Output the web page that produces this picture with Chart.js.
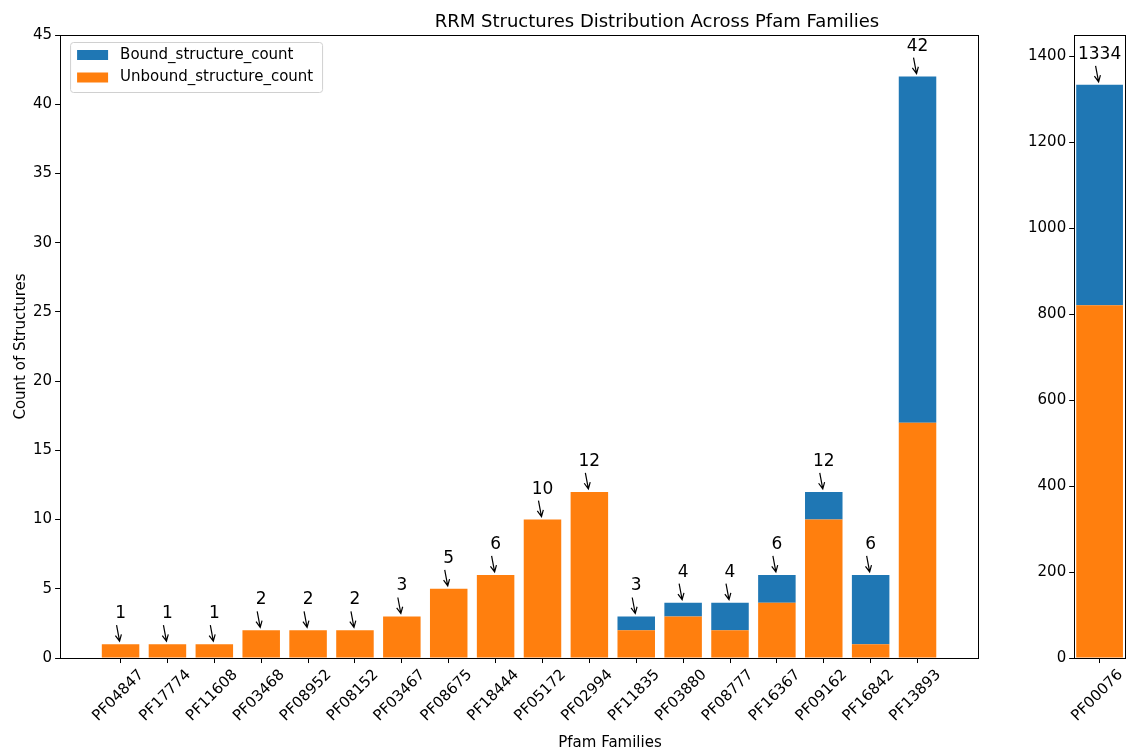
<!DOCTYPE html>
<html>
<head>
<meta charset="utf-8">
<script src="https://cdn.jsdelivr.net/npm/chart.js@4.4.1/dist/chart.umd.min.js"></script>
<style>
    body { margin: 0; background: #fff; font-family: 'DejaVu Sans', sans-serif; }
    #wrap { position: relative; width: 1128px; height: 753px; overflow: hidden; }
    canvas { position: absolute; top: 0; }
    #title { position: absolute; top: 10px; left: 357px; width: 600px; text-align: center; font-size: 18px; color: #000; }
    #xlabel { position: absolute; top: 733px; left: 460px; width: 300px; text-align: center; font-size: 15px; color: #000; }
</style>
</head>
<body>
<div id="wrap">
    <canvas id="mainChart" width="1000" height="753" style="left:0"></canvas>
    <canvas id="sideChart" width="128" height="753" style="left:1000px"></canvas>
    <div id="title">RRM Structures Distribution Across Pfam Families</div>
    <div id="xlabel">Pfam Families</div>
</div>
<script>
const families = ['PF04847', 'PF17774', 'PF11608', 'PF03468', 'PF08952', 'PF08152', 'PF03467', 'PF08675', 'PF18444',
    'PF05172', 'PF02994', 'PF11835', 'PF03880', 'PF08777', 'PF16367', 'PF09162', 'PF16842', 'PF13893'];
const unboundCounts = [1, 1, 1, 2, 2, 2, 3, 5, 6, 10, 12, 2, 3, 2, 4, 10, 1, 17];
const boundCounts = [0, 0, 0, 0, 0, 0, 0, 0, 0, 0, 0, 1, 1, 2, 2, 2, 5, 25];

const bigFamily = ['PF00076'];
const bigUnbound = [821];
const bigBound = [513];

const mainYTicks = [0, 5, 10, 15, 20, 25, 30, 35, 40, 45];
const sideYTicks = [0, 200, 400, 600, 800, 1000, 1200, 1400];

const BLUE = '#1f77b4';
const ORANGE = '#ff7f0e';
const FONT = "'DejaVu Sans', sans-serif";

// box round the plot area, like matplotlib spines
const framePlugin = {
    id: 'frame',
    afterDraw(chart) {
        const { ctx, chartArea: a } = chart;
        ctx.save();
        ctx.strokeStyle = '#000';
        ctx.lineWidth = 1;
        ctx.strokeRect(Math.round(a.left) + 0.5, Math.round(a.top) + 0.5, Math.round(a.right - a.left), Math.round(a.bottom - a.top));
        ctx.restore();
    }
};

// total labels with small arrows above each bar
const makeTotalsPlugin = (unbound, bound) => ({
    id: 'totals',
    afterDatasetsDraw(chart) {
        const { ctx, scales } = chart;
        ctx.save();
        ctx.fillStyle = '#000';
        ctx.strokeStyle = '#000';
        ctx.lineWidth = 1.2;
        ctx.font = `17px ${FONT}`;
        ctx.textAlign = 'center';
        ctx.textBaseline = 'alphabetic';

        unbound.forEach((u, i) => {
            const total = u + bound[i];
            const x = scales.x.getPixelForValue(i);
            const top = scales.y.getPixelForValue(total);

            ctx.fillText(String(total), x, top - 26);

            const x0 = x - 4, y0 = top - 19;
            const x1 = x - 1, y1 = top - 3;
            ctx.beginPath();
            ctx.moveTo(x0, y0);
            ctx.lineTo(x1, y1);
            const ang = Math.atan2(y1 - y0, x1 - x0);
            const len = 7;
            ctx.moveTo(x1 - len * Math.cos(ang - 0.45), y1 - len * Math.sin(ang - 0.45));
            ctx.lineTo(x1, y1);
            ctx.lineTo(x1 - len * Math.cos(ang + 0.45), y1 - len * Math.sin(ang + 0.45));
            ctx.stroke();
        });
        ctx.restore();
    }
});

const legendPlugin = {
    id: 'boxLegend',
    afterDraw(chart) {
        const { ctx, chartArea: a } = chart;
        const x = a.left + 10, y = a.top + 7;
        const w = 252, h = 50;
        ctx.save();
        ctx.fillStyle = 'rgba(255,255,255,0.8)';
        ctx.strokeStyle = '#d0d0d0';
        ctx.lineWidth = 1;
        ctx.beginPath();
        ctx.roundRect(x + 0.5, y + 0.5, w, h, 3);
        ctx.fill();
        ctx.stroke();

        const items = [
            { label: 'Bound_structure_count', color: BLUE },
            { label: 'Unbound_structure_count', color: ORANGE }
        ];
        ctx.font = `15px ${FONT}`;
        ctx.textBaseline = 'middle';
        ctx.textAlign = 'left';
        items.forEach((item, k) => {
            const cy = y + 13 + k * 22.5;
            ctx.fillStyle = item.color;
            ctx.fillRect(x + 7, cy - 5, 31, 10);
            ctx.fillStyle = '#000';
            ctx.fillText(item.label, x + 50, cy);
        });
        ctx.restore();
    }
};

const axisCommon = {
    grid: { display: true, drawOnChartArea: false, drawTicks: true, tickLength: 5, color: '#000', offset: false },
    border: { display: false }
};

const renderMain = () => {
    const ctx = document.getElementById('mainChart').getContext('2d');

    new Chart(ctx, {
        type: 'bar',
        data: {
            datasets: [
                {
                    label: 'Unbound_structure_count',
                    data: unboundCounts.map((v, i) => ({ x: i, y: v })),
                    backgroundColor: ORANGE,
                    categoryPercentage: 0.8,
                    barPercentage: 1
                },
                {
                    label: 'Bound_structure_count',
                    data: boundCounts.map((v, i) => ({ x: i, y: v })),
                    backgroundColor: BLUE,
                    categoryPercentage: 0.8,
                    barPercentage: 1
                }
            ]
        },
        options: {
            responsive: false,
            animation: false,
            layout: { padding: { left: 8, top: 35, right: 22, bottom: 25 } },
            plugins: {
                legend: { display: false },
                tooltip: { enabled: false }
            },
            scales: {
                x: {
                    type: 'linear',
                    stacked: true,
                    offset: false,
                    min: -1.29,
                    max: 18.29,
                    ...axisCommon,
                    afterBuildTicks: (scale) => {
                        scale.ticks = families.map((_, i) => ({ value: i }));
                    },
                    ticks: {
                        color: '#000',
                        font: { family: FONT, size: 15 },
                        minRotation: 45,
                        maxRotation: 45,
                        labelOffset: 21,
                        autoSkip: false,
                        callback: (v) => families[v]
                    }
                },
                y: {
                    stacked: true,
                    min: 0,
                    max: 45,
                    ...axisCommon,
                    afterBuildTicks: (scale) => {
                        scale.ticks = mainYTicks.map(v => ({ value: v }));
                    },
                    title: {
                        display: true,
                        text: 'Count of Structures',
                        color: '#000',
                        padding: { top: 4, bottom: 0 },
                        font: { family: FONT, size: 15 }
                    },
                    ticks: {
                        color: '#000',
                        font: { family: FONT, size: 15 }
                    }
                }
            }
        },
        plugins: [framePlugin, makeTotalsPlugin(unboundCounts, boundCounts), legendPlugin]
    });
}

const renderSide = () => {
    const ctx = document.getElementById('sideChart').getContext('2d');

    new Chart(ctx, {
        type: 'bar',
        data: {
            labels: bigFamily,
            datasets: [
                {
                    label: 'Unbound_structure_count',
                    data: bigUnbound,
                    backgroundColor: ORANGE,
                    categoryPercentage: 0.92,
                    barPercentage: 1
                },
                {
                    label: 'Bound_structure_count',
                    data: bigBound,
                    backgroundColor: BLUE,
                    categoryPercentage: 0.92,
                    barPercentage: 1
                }
            ]
        },
        options: {
            responsive: false,
            animation: false,
            layout: { padding: { left: 25, top: 35, right: 3, bottom: 25 } },
            plugins: {
                legend: { display: false },
                tooltip: { enabled: false }
            },
            scales: {
                x: {
                    stacked: true,
                    ...axisCommon,
                    ticks: {
                        color: '#000',
                        font: { family: FONT, size: 15 },
                        minRotation: 45,
                        maxRotation: 45,
                        labelOffset: 21
                    }
                },
                y: {
                    stacked: true,
                    min: 0,
                    max: 1450,
                    ...axisCommon,
                    afterBuildTicks: (scale) => {
                        scale.ticks = sideYTicks.map(v => ({ value: v }));
                    },
                    ticks: {
                        color: '#000',
                        font: { family: FONT, size: 15 },
                        callback: (v) => String(v)
                    }
                }
            }
        },
        plugins: [framePlugin, makeTotalsPlugin(bigUnbound, bigBound)]
    });
}

renderMain();
renderSide();
</script>
</body>
</html>
